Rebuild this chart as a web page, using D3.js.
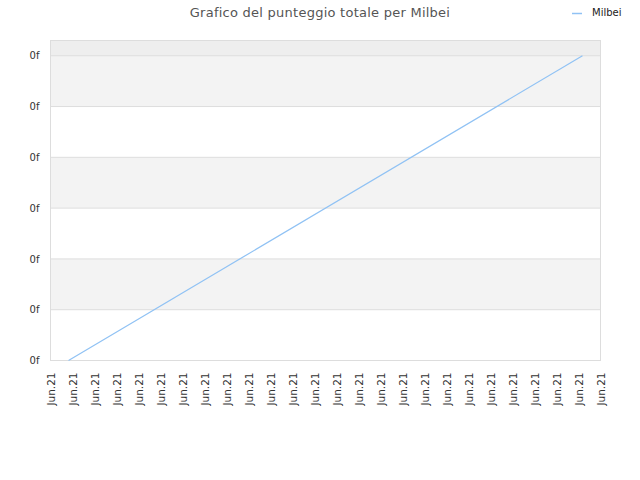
<!DOCTYPE html>
<html lang="it">
<head>
<meta charset="UTF-8">
<title>Grafico del punteggio totale per Milbei</title>
<script src="https://d3js.org/d3.v7.min.js"></script>
<style>
  body { margin: 0; background: #fff; }
  text { font-family: "DejaVu Sans", sans-serif; }
</style>
</head>
<body>
<svg id="chart" width="640" height="480"></svg>
<script>
// chart data
const title = "Grafico del punteggio totale per Milbei";
const seriesName = "Milbei";
const xTickLabels = ["Jun.21","Jun.21","Jun.21","Jun.21","Jun.21","Jun.21","Jun.21","Jun.21","Jun.21",
  "Jun.21","Jun.21","Jun.21","Jun.21","Jun.21","Jun.21","Jun.21","Jun.21","Jun.21","Jun.21",
  "Jun.21","Jun.21","Jun.21","Jun.21","Jun.21","Jun.21","Jun.21"];
const yTickValues = [0, 1, 2, 3, 4, 5, 6];
const yTickLabels = ["0f","0f","0f","0f","0f","0f","0f"];
// point positions in tick units along the x axis, and their scores
const pointX = [0.82, 24.18];
const pointY = [0, 6];

const svg = d3.select("#chart");
const margin = {top: 40.5, right: 39.5, bottom: 119.5, left: 50.5};
const width = 640 - margin.left - margin.right;
const height = 480 - margin.top - margin.bottom;

const x = d3.scaleLinear().domain([0, xTickLabels.length - 1]).range([0, width]);
const y = d3.scaleLinear().domain([0, 6.3]).range([height, 0]);

const g = svg.append("g").attr("transform", `translate(${margin.left},${margin.top})`);

// top strip above the last tick
g.append("rect")
  .attr("x", 0).attr("y", 0)
  .attr("width", width).attr("height", y(yTickValues[yTickValues.length - 1]))
  .attr("fill", "#eeeeee");

// alternating bands
g.selectAll("rect.band")
  .data(d3.pairs(yTickValues))
  .join("rect")
  .attr("class", "band")
  .attr("x", 0)
  .attr("y", d => y(d[1]))
  .attr("width", width)
  .attr("height", d => y(d[0]) - y(d[1]))
  .attr("fill", (d, i) => i % 2 === 0 ? "#ffffff" : "#f3f3f3");

// gridlines
g.append("g")
  .selectAll("line")
  .data(yTickValues)
  .join("line")
  .attr("x1", 0).attr("x2", width)
  .attr("y1", d => y(d)).attr("y2", d => y(d))
  .attr("stroke", "#dddddd");

// frame
g.append("rect")
  .attr("width", width).attr("height", height)
  .attr("fill", "none").attr("stroke", "#dddddd");

// y axis
const yAxis = d3.axisLeft(y)
  .tickValues(yTickValues)
  .tickSize(0)
  .tickPadding(11)
  .tickFormat((d, i) => yTickLabels[i]);
g.append("g").call(yAxis)
  .call(a => a.select(".domain").remove())
  .selectAll("text")
  .attr("fill", "#333")
  .style("font-family", "'DejaVu Sans', sans-serif")
  .style("font-size", "10px");

// x axis
const xAxis = d3.axisBottom(x)
  .tickValues(d3.range(xTickLabels.length))
  .tickSize(0)
  .tickFormat((d, i) => xTickLabels[i]);
g.append("g").attr("transform", `translate(0,${height})`).call(xAxis)
  .call(a => a.select(".domain").remove())
  .selectAll("text")
  .attr("fill", "#333")
  .style("font-family", "'DejaVu Sans', sans-serif")
  .style("font-size", "10.5px")
  .attr("text-anchor", "end")
  .attr("transform", "rotate(-90)")
  .attr("x", -12)
  .attr("y", 0)
  .attr("dy", "0.35em");

// series line
const points = pointX.map((px, i) => [px, pointY[i]]);
g.append("path")
  .datum(points)
  .attr("fill", "none")
  .attr("stroke", "#90c2f4")
  .attr("stroke-width", 1.2)
  .attr("d", d3.line().x(d => x(d[0])).y(d => y(d[1])));

// title
svg.append("text")
  .attr("x", 320).attr("y", 17)
  .attr("text-anchor", "middle")
  .attr("fill", "#555")
  .style("font-size", "13px")
  .style("letter-spacing", "0.25px")
  .text(title);

// legend
svg.append("line")
  .attr("x1", 572).attr("x2", 582)
  .attr("y1", 13.5).attr("y2", 13.5)
  .attr("stroke", "#90c2f4").attr("stroke-width", 1.5);
svg.append("text")
  .attr("x", 592).attr("y", 16)
  .attr("fill", "#222")
  .style("font-size", "10px")
  .text(seriesName);
</script>
</body>
</html>
